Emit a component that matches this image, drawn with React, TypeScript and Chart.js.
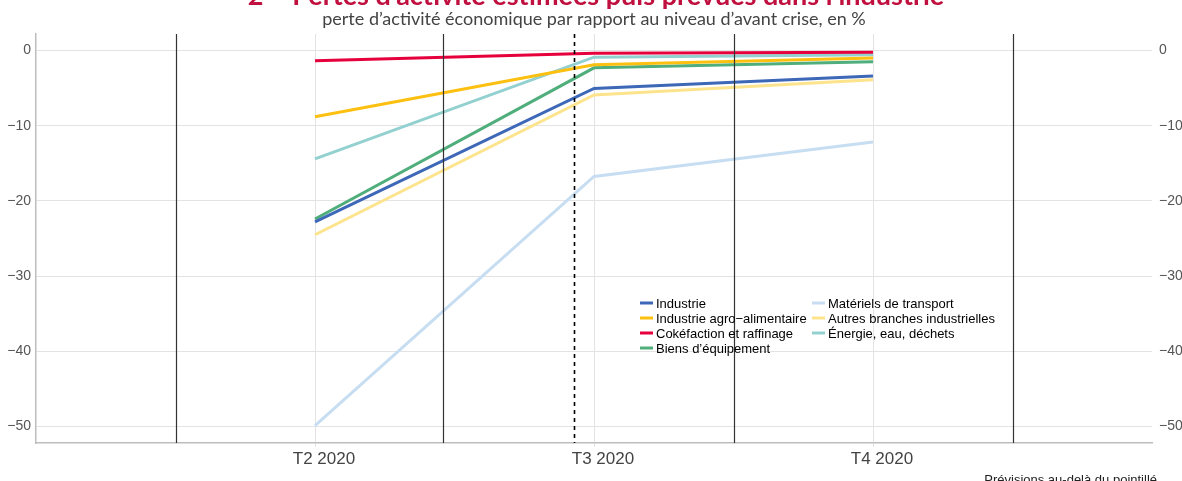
import React, { useEffect, useRef } from "react";
import { Chart, registerables } from "chart.js";

Chart.register(...registerables);

const titleText = "2 – Pertes d’activité estimées puis prévues dans l’industrie";
const subtitleText = "perte d’activité économique par rapport au niveau d’avant crise, en %";
const noteText = "Prévisions au-delà du pointillé";

const categories = ["T2 2020", "T3 2020", "T4 2020"];
const yTickValues = [0, -10, -20, -30, -40, -50];

const industrie = [-22.8, -5.05, -3.4];
const agroAlimentaire = [-8.8, -1.9, -1.0];
const cokefaction = [-1.35, -0.35, -0.22];
const biensEquipement = [-22.4, -2.3, -1.5];
const materielsTransport = [-49.9, -16.75, -12.15];
const autresBranches = [-24.5, -5.9, -3.9];
const energie = [-14.4, -0.88, -0.57];

const separatorPositions = [1.5, 2.46, 3.5, 4.5];
const forecastStart = 2.93;

const seriesNames = [
  "Industrie",
  "Industrie agro−alimentaire",
  "Cokéfaction et raffinage",
  "Biens d’équipement",
  "Matériels de transport",
  "Autres branches industrielles",
  "Énergie, eau, déchets",
];
const seriesValues = [
  industrie,
  agroAlimentaire,
  cokefaction,
  biensEquipement,
  materielsTransport,
  autresBranches,
  energie,
];
const seriesColors = [
  "#3d67b7",
  "#fdc010",
  "#e6003c",
  "#4fae7b",
  "#c6ddf2",
  "#fde48c",
  "#93d0d0",
];

const FONT = "'Liberation Sans', Arial, sans-serif";

const fmt = (v: number) => (v < 0 ? "−" + Math.abs(v) : String(v));

const decorPlugin = {
  id: "decor",
  afterDatasetsDraw(chart: any) {
    const { ctx, chartArea, scales } = chart;
    const x = scales.x;
    ctx.save();
    ctx.strokeStyle = "#333333";
    ctx.lineWidth = 1.2;
    separatorPositions.forEach((p) => {
      const px = Math.round(x.getPixelForValue(p)) + 0.5;
      ctx.beginPath();
      ctx.moveTo(px, chartArea.top);
      ctx.lineTo(px, chartArea.bottom);
      ctx.stroke();
    });
    ctx.strokeStyle = "#000000";
    ctx.lineWidth = 1.6;
    ctx.setLineDash([4, 4]);
    const dx = Math.round(x.getPixelForValue(forecastStart)) + 0.5;
    ctx.beginPath();
    ctx.moveTo(dx, chartArea.top);
    ctx.lineTo(dx, chartArea.bottom);
    ctx.stroke();
    ctx.restore();
  },
  afterDraw(chart: any) {
    const { ctx } = chart;
    ctx.save();
    // title (partly outside the canvas, as in the reference)
    ctx.fillStyle = "#c0103f";
    ctx.font = "bold 27px Lato, 'Open Sans', sans-serif";
    ctx.textAlign = "center";
    ctx.textBaseline = "alphabetic";
    ctx.fillText(titleText, 596, 5);
    ctx.fillStyle = "#444444";
    ctx.font = "18px Lato, 'Open Sans', sans-serif";
    ctx.fillText(subtitleText, 594, 25);
    // note
    ctx.fillStyle = "#222222";
    ctx.font = "13px " + FONT;
    ctx.textAlign = "right";
    ctx.fillText(noteText, 1157, 484);
    // legend
    const colX = [640, 812];
    const rowY0 = 303;
    const rowStep = 15;
    ctx.textAlign = "left";
    ctx.textBaseline = "middle";
    ctx.font = "13px " + FONT;
    chart.data.datasets.forEach((ds: any, i: number) => {
      const col = i < 4 ? 0 : 1;
      const row = i < 4 ? i : i - 4;
      const lx = colX[col];
      const ly = rowY0 + row * rowStep;
      ctx.strokeStyle = ds.borderColor;
      ctx.lineWidth = 3;
      ctx.beginPath();
      ctx.moveTo(lx, ly);
      ctx.lineTo(lx + 13, ly);
      ctx.stroke();
      ctx.fillStyle = "#000000";
      ctx.fillText(ds.label, lx + 16, ly + 1);
    });
    ctx.restore();
  },
};

export default function App() {
  const canvasRef = useRef<HTMLCanvasElement | null>(null);

  useEffect(() => {
    const canvas = canvasRef.current;
    if (!canvas) return;
    const yMin = -52.2;
    const yMax = 2.2;
    const chart = new Chart(canvas, {
      type: "line",
      data: {
        datasets: seriesNames.map((name, i) => ({
          label: name,
          data: seriesValues[i].map((v, j) => ({ x: j + 2, y: v })),
          borderColor: seriesColors[i],
          backgroundColor: seriesColors[i],
          borderWidth: 3,
          pointRadius: 0,
          tension: 0,
          fill: false,
        })),
      },
      options: {
        animation: false,
        responsive: false,
        maintainAspectRatio: false,
        devicePixelRatio: 1,
        layout: { padding: { top: 34, left: 0, right: 0, bottom: 0 } },
        plugins: {
          legend: { display: false },
          title: { display: false },
          tooltip: { enabled: false },
        },
        scales: {
          x: {
            type: "linear",
            min: 1,
            max: 5,
            afterBuildTicks: (s: any) => {
              s.ticks = categories.map((_, i) => ({ value: i + 2 }));
            },
            afterFit: (s: any) => {
              s.height = 38;
            },
            ticks: {
              callback: (v: any) => categories[Number(v) - 2] ?? "",
              color: "#444444",
              font: { family: FONT, size: 17 },
              padding: 2,
              labelOffset: 9,
              maxRotation: 0,
              autoSkip: false,
            },
            grid: { color: "#e3e3e3", lineWidth: 1, tickLength: 4 },
            border: { color: "#bdbdbd", width: 1.5 },
          },
          y: {
            type: "linear",
            position: "left",
            min: yMin,
            max: yMax,
            afterBuildTicks: (s: any) => {
              s.ticks = yTickValues.map((v) => ({ value: v }));
            },
            afterFit: (s: any) => {
              s.width = 36;
            },
            ticks: {
              callback: (v: any) => fmt(Number(v)),
              color: "#555555",
              font: { family: FONT, size: 14 },
              padding: 5,
            },
            grid: { color: "#e3e3e3", lineWidth: 1, drawTicks: false },
            border: { color: "#bdbdbd", width: 1.5 },
          },
          y2: {
            type: "linear",
            position: "right",
            min: yMin,
            max: yMax,
            afterBuildTicks: (s: any) => {
              s.ticks = yTickValues.map((v) => ({ value: v }));
            },
            afterFit: (s: any) => {
              s.width = 30;
            },
            ticks: {
              callback: (v: any) => fmt(Number(v)),
              color: "#555555",
              font: { family: FONT, size: 14 },
              padding: 7,
            },
            grid: { drawOnChartArea: false, drawTicks: false },
            border: { display: false },
          },
        },
      },
      plugins: [decorPlugin],
    } as any);
    return () => chart.destroy();
  }, []);

  return (
    <div style={{ position: "fixed", left: 0, top: 0, width: 1182, height: 481, background: "#ffffff" }}>
      <canvas ref={canvasRef} width={1182} height={481} style={{ display: "block", width: 1182, height: 481 }} />
    </div>
  );
}
